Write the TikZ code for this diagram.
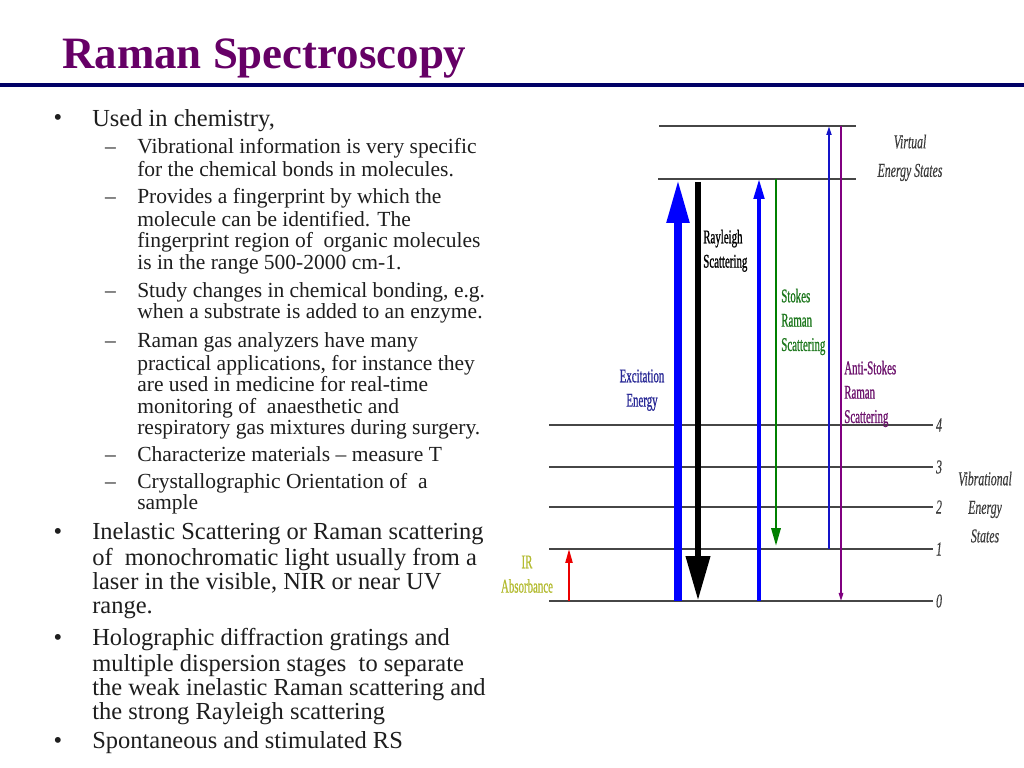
\documentclass[tikz,border=0pt]{standalone}
\usepackage{fontspec}
\setmainfont{Liberation Serif}
\newfontfamily\lblfont[FakeStretch=0.56,FakeBold=0.8]{Liberation Serif}
\newfontfamily\lblitfont[FakeStretch=0.6,FakeBold=0.3]{Liberation Serif}
\usetikzlibrary{arrows.meta,positioning}

\definecolor{titlepurple}{RGB}{102,0,102}
\definecolor{rulenavy}{RGB}{0,0,102}
\definecolor{bodygray}{RGB}{30,30,30}
\definecolor{levelgray}{RGB}{70,70,70}
\definecolor{excblue}{RGB}{0,0,255}
\definecolor{exclabel}{RGB}{40,40,150}
\definecolor{stokesgreen}{RGB}{0,128,0}
\definecolor{stokeslabel}{RGB}{30,120,30}
\definecolor{antiblue}{RGB}{20,20,200}
\definecolor{antipurple}{RGB}{128,0,128}
\definecolor{antilabel}{RGB}{110,20,110}
\definecolor{irred}{RGB}{235,0,0}
\definecolor{irlabel}{RGB}{180,188,50}
\definecolor{statesgray}{RGB}{60,60,60}

\begin{document}
\begin{tikzpicture}[x=0.025cm, y=-0.025cm,
      txt/.style={anchor=north west, inner sep=0pt, align=left, text=bodygray},
      lvone/.style={txt, font=\fontsize{17.4}{17.1}\selectfont, yshift=11.97pt},
      lvtwo/.style={txt, font=\fontsize{15.3}{15.3}\selectfont, yshift=10.71pt},
      bul/.style={anchor=base, inner sep=0pt, text=bodygray, font=\fontsize{17.4}{17.1}\selectfont},
      dsh/.style={anchor=base, inner sep=0pt, text=bodygray, font=\fontsize{15.3}{15.3}\selectfont},
      level/.style={draw=levelgray, line width=1.1pt},
      lvnum/.style={anchor=west, inner sep=0pt, xshift=2pt, text=statesgray, font=\lblitfont\itshape\fontsize{14}{17.3}\selectfont},
      lbl/.style={anchor=north west, inner sep=0pt, align=left, font=\lblfont\fontsize{13.8}{17.3}\selectfont, yshift=12.11pt},
      lblc/.style={lbl, anchor=north, align=center},
      lblit/.style={anchor=north, inner sep=0pt, align=center, text=statesgray, font=\lblitfont\itshape\fontsize{14}{20.3}\selectfont, yshift=14.21pt},
      excarrow/.style={draw=excblue, line width=5.67pt, -{Triangle[length=31.2pt, width=14.9pt]}},
      rayarrow/.style={draw=black, line width=4.96pt, -{Triangle[length=31.9pt, width=16.3pt]}},
      stoarrow/.style={draw=excblue, line width=2.5pt, -{Triangle[length=14.2pt, width=7.4pt]}},
      strarrow/.style={draw=stokesgreen, line width=2.1pt, -{Triangle[length=12.8pt, width=6.4pt]}},
      antarrow/.style={draw=antiblue, line width=1.4pt, -{Triangle[length=6.4pt, width=3.5pt]}},
      asrarrow/.style={draw=antipurple, line width=1pt, -{Triangle[length=5.7pt, width=3.2pt]}},
      irarrow/.style={draw=irred, line width=1.4pt, -{Triangle[length=9.9pt, width=5pt]}}]

   %   \draw[help lines] (0, 0) grid (1024, 768);

      \fill[white] (0,0) rectangle (1024,768);
      \useasboundingbox (0,0) rectangle (1024,768);

      \node [anchor=base west, inner sep=0pt, font=\bfseries\fontsize{31.9}{36}\selectfont, text=titlepurple] (title) at (62,68.5) {Raman Spectroscopy};
      \coordinate (rulew) at (0,85);
      \coordinate (rulee) at (1024,85);
      \draw [rulenavy, line width=2.2pt] (rulew) -- (rulee);

      \node [bul] (b1) at (58,126) {\textbullet};
      \node [lvone] (i1) at (92,126) {\strut Used in chemistry,};

      \node [dsh] (d1) at (110.5,153) {\textendash};
      \node [lvtwo] (s1) at (137,153) {\strut Vibrational information is very specific\\for the chemical bonds in molecules.};
      \node [dsh] (d2) at (110.5,203) {\textendash};
      \node [lvtwo] (s2) at (137,203) {\strut Provides a fingerprint by which the\\molecule can be identified. The\\fingerprint region of\ \ organic molecules\\is in the range 500-2000 cm-1.};
      \node [dsh] (d3) at (110.5,297) {\textendash};
      \node [lvtwo] (s3) at (137,297) {\strut Study changes in chemical bonding, e.g.\\when a substrate is added to an enzyme.};
      \node [dsh] (d4) at (110.5,347) {\textendash};
      \node [lvtwo] (s4) at (137,347) {\strut Raman gas analyzers have many\\practical applications, for instance they\\are used in medicine for real-time\\monitoring of\ \ anaesthetic and\\respiratory gas mixtures during surgery.};
      \node [dsh] (d5) at (110.5,461) {\textendash};
      \node [lvtwo] (s5) at (137,461) {\strut Characterize materials -- measure T};
      \node [dsh] (d6) at (110.5,488) {\textendash};
      \node [lvtwo] (s6) at (137,488) {\strut Crystallographic Orientation of\ \ a\\sample};

      \node [bul] (b2) at (58,539) {\textbullet};
      \node [lvone] (i2) at (92,539) {\strut Inelastic Scattering or Raman scattering\\of\ \ monochromatic light usually from a\\laser in the visible, NIR or near UV\\range.};
      \node [bul] (b3) at (58,645) {\textbullet};
      \node [lvone] (i3) at (92,645) {\strut Holographic diffraction gratings and\\multiple dispersion stages\ \ to separate\\the weak inelastic Raman scattering and\\the strong Rayleigh scattering};
      \node [bul] (b4) at (58,748) {\textbullet};
      \node [lvone] (i4) at (92,748) {\strut Spontaneous and stimulated RS};

      % energy levels
      \coordinate (vtw1) at (659,126);
      \coordinate (vte1) at (856,126);
      \coordinate (vtw2) at (658,179);
      \coordinate (vte2) at (856,179);
      \draw [level] (vtw1) -- (vte1);
      \draw [level] (vtw2) -- (vte2);

      \coordinate (lvw0) at (549,601);
      \coordinate (lvw1) at (549,549);
      \coordinate (lvw2) at (549,507);
      \coordinate (lvw3) at (549,467);
      \coordinate (lvw4) at (549,425);
      \foreach \n in {0,...,4} {
        \coordinate (lve\n) at (lvw\n -| 933,0);
        \draw [level] (lvw\n) -- (lve\n);
        \node [lvnum] (num\n) at (lve\n) {\n};
      }

      \coordinate (xir) at (569,0);
      \coordinate (xexc) at (678,0);
      \coordinate (xray) at (698,0);
      \coordinate (xsto) at (759,0);
      \coordinate (xstr) at (776,0);
      \coordinate (xant) at (829,0);
      \coordinate (xasr) at (841,0);

      \draw [irarrow] (xir |- lvw0) -- (xir |- lvw1);
      \draw [excarrow] (xexc |- lvw0) -- (xexc |- vtw2);
      \draw [rayarrow, shorten <=2pt] (xray |- vtw2) -- (xray |- lvw0);
      \draw [stoarrow] (xsto |- lvw0) -- (xsto |- vtw2);
      \draw [strarrow, shorten >=2pt] (xstr |- vtw2) -- (xstr |- lvw1);
      \draw [antarrow] (xant |- lvw1) -- (xant |- vtw1);
      \draw [asrarrow] (xasr |- vtw1) -- (xasr |- lvw0);

      \node [lblit] (virt) at (910,148) {\strut Virtual\\Energy States};
      \node [lbl, text=black] (rayl) at (703,243) {\strut Rayleigh\\Scattering};
      \node [lbl, text=stokeslabel] (stok) at (781,302) {\strut Stokes\\Raman\\Scattering};
      \node [lblc, text=exclabel] (exci) at (642,382) {\strut Excitation\\Energy};
      \node [lbl, text=antilabel] (anti) at (844,374) {\strut Anti-Stokes\\Raman\\Scattering};
      \node [lblc, text=irlabel] (irab) at (527,568) {\strut IR\\Absorbance};
      \node [lblit] (vibr) at (985,485) {\strut Vibrational\\Energy\\States};

    \end{tikzpicture}
\end{document}
